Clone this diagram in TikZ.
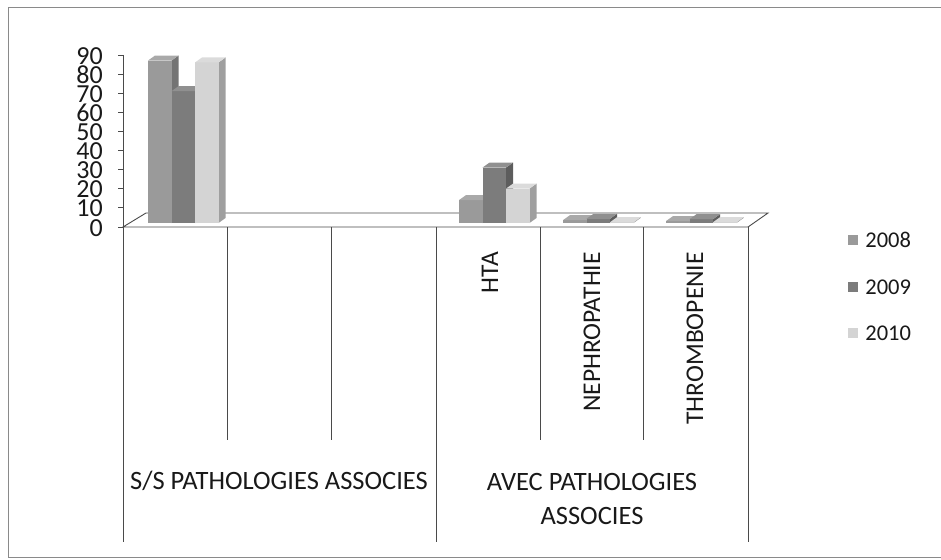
\documentclass[tikz,border=0pt]{standalone}
\usepackage{fontspec}
\setmainfont{Carlito}
\usepackage{tikz}
\usetikzlibrary{positioning, calc}
\definecolor{lineGray}{HTML}{4A4A4A}
\definecolor{frameGray}{HTML}{8A8A8A}
\definecolor{barA}{HTML}{9A9A9A}
\definecolor{barB}{HTML}{7C7C7C}
\definecolor{barC}{HTML}{D4D4D4}

\begin{document}
\begin{tikzpicture}[
    x=1pt, y=-1pt,
    every node/.style={inner sep=0pt, text=black!90},
    axisline/.style={draw=lineGray, line width=0.9pt},
    catlabel/.style={font=\fontsize{26.5}{34}\selectfont, align=center},
    sublabel/.style={font=\fontsize{25.5}{28}\selectfont, rotate=90, anchor=east},
    ticklabel/.style={font=\fontsize{26}{26}\selectfont, anchor=east,
        text height=16pt, text depth=0pt},
    legendbox/.style={minimum size=10pt, inner sep=0pt},
    legendtext/.style={font=\fontsize{22.5}{24}\selectfont, anchor=west},
]
\useasboundingbox (0,0) rectangle (941,559);

% === FRAME ===
\draw[draw=frameGray, line width=0.8pt] (945,7) -- (8,7) -- (8,557) -- (945,557);

% === FLOOR ===
\draw[axisline, fill=white] (123,227) -- (146,213) -- (768,213) -- (748,227) -- cycle;

% === VALUE AXIS ===
\draw[axisline] (123,55) -- (123,227);
\foreach \k in {0,...,9}{
    \pgfmathtruncatemacro\val{\k*10}
    \draw[axisline] (118,227-\k*19.11) -- (123,227-\k*19.11);
    \node[ticklabel] (tick\k) at (103,228-\k*19.11) {\val};
}

% === BARS (2008 / 2009 / 2010) ===
\foreach \xa/\va/\vb/\vc in {148/85/69/84, 459/12/29/18, 563/1.5/2.2/0.4, 666/1/2/0.4}{
    \foreach \i/\v/\c in {0/\va/barA, 1/\vb/barB, 2/\vc/barC}{
        \pgfmathsetmacro\bx{\xa+\i*23.5}
        \pgfmathsetmacro\ty{223-\v*1.911}
        \fill[\c!75!black] (\bx+23.5,223) -- (\bx+30.5,218) -- (\bx+30.5,\ty-5) -- (\bx+23.5,\ty) -- cycle;
        \fill[\c] (\bx,223) rectangle (\bx+23.5,\ty);
        \fill[\c!85!white] (\bx,\ty) -- (\bx+7,\ty-5) -- (\bx+30.5,\ty-5) -- (\bx+23.5,\ty) -- cycle;
    }
}

% === CATEGORY LINES ===
\draw[axisline] (123,227) -- (123,542);
\draw[axisline] (227.5,227) -- (227.5,440);
\draw[axisline] (331.5,227) -- (331.5,440);
\draw[axisline] (436,227) -- (436,542);
\draw[axisline] (540,227) -- (540,440);
\draw[axisline] (643,227) -- (643,440);
\draw[axisline] (748,227) -- (748,542);

% === CATEGORY LABELS ===
\node[sublabel] (hta) at (490,252) {HTA};
\node[sublabel] (nephro) at (592,252) {NEPHROPATHIE};
\node[sublabel] (thrombo) at (695,252) {THROMBOPENIE};

\node[catlabel] (sans) at (279,481) {S/S PATHOLOGIES ASSOCIES};
\node[catlabel] (avec) at (592,499) {AVEC PATHOLOGIES\\ASSOCIES};

% === LEGEND ===
\node[legendbox, fill=barA] (keyA) at (853,240) {};
\node[legendtext, right=7pt of keyA] (year2008) {2008};
\node[legendbox, fill=barB] (keyB) at (853,287) {};
\node[legendtext, right=7pt of keyB] (year2009) {2009};
\node[legendbox, fill=barC] (keyC) at (853,333) {};
\node[legendtext, right=7pt of keyC] (year2010) {2010};
\end{tikzpicture}
\end{document}
